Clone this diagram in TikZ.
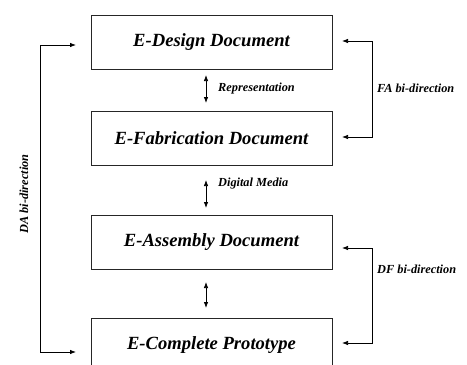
\documentclass[tikz,border=0pt]{standalone}
\usepackage{fontspec}
\setmainfont{Liberation Serif}
\usetikzlibrary{arrows.meta}
\tikzset{
  docbox/.style={draw=black!85, line width=0.8pt, minimum width=241pt, minimum height=54pt, inner sep=0pt,
    font=\fontsize{18.6}{20}\selectfont\bfseries\itshape},
  lbl/.style={font=\fontsize{12.3}{14}\selectfont\bfseries\itshape, inner sep=0pt},
  conn/.style={line width=0.75pt, -{Latex[length=6pt,width=4.5pt]}},
  dconn/.style={line width=0.75pt, {Latex[length=6pt,width=4.5pt]}-{Latex[length=6pt,width=4.5pt]}}
}
\begin{document}
\begin{tikzpicture}[x=1pt,y=-1pt]
\useasboundingbox (0,0) rectangle (467,365);
\clip (0,0) rectangle (467,365);
\node[docbox] (b1) at (211.5,42) {E-Design Document};
\node[docbox] (b2) at (211.5,138.5) {E-Fabrication Document};
\node[docbox] (b3) at (211.5,242.5) {E-Assembly Document};
\node[docbox] (b4) at (211.5,345) {E-Complete Prototype};
% small double arrows
\coordinate (a1t) at (206,75); \coordinate (a1b) at (206,103);
\coordinate (a2t) at (206,180); \coordinate (a2b) at (206,208);
\coordinate (a3t) at (206,282); \coordinate (a3b) at (206,308);
\draw[dconn] (a1t) -- (a1b);
\draw[dconn] (a2t) -- (a2b);
\draw[dconn] (a3t) -- (a3b);
\node[lbl, anchor=west] (l1) at (218,89) {Representation};
\node[lbl, anchor=west] (l2) at (218,184) {Digital Media};
% DA left loop
\coordinate (da1) at (76,45); \coordinate (da2) at (76,352);
\draw[conn] (40,45) -- (da1);
\draw[conn] (40,45) -- (40,352) -- (da2);
\node[lbl, rotate=90] (lda) at (24,194) {DA bi-direction};
% FA right loop
\coordinate (fa1) at (342,41); \coordinate (fa2) at (342,137);
\draw[conn] (372,89) -- (372,41) -- (fa1);
\draw[conn] (372,89) -- (372,137) -- (fa2);
\node[lbl, anchor=west] (lfa) at (377,88) {FA bi-direction};
% DF right loop
\coordinate (df1) at (342,248); \coordinate (df2) at (342,343);
\draw[conn] (372,296) -- (372,248) -- (df1);
\draw[conn] (372,296) -- (372,343) -- (df2);
\node[lbl, anchor=west] (ldf) at (377,269) {DF bi-direction};
\end{tikzpicture}
\end{document}
